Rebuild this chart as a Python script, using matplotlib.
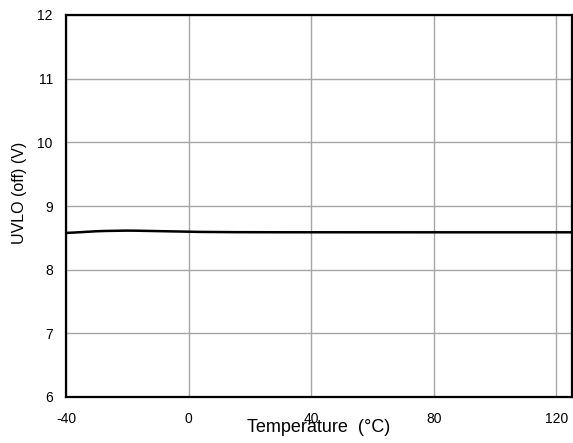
import matplotlib
matplotlib.use("Agg")
import matplotlib.pyplot as plt
import numpy as np

plt.rcParams['font.family'] = ['Liberation Sans', 'DejaVu Sans']
plt.rcParams['axes.unicode_minus'] = False

temperature = [-40, -30, -20, -10, 0, 10, 20, 40, 60, 80, 100, 125]
uvlo_off = [8.575, 8.605, 8.615, 8.605, 8.595, 8.59, 8.588, 8.587, 8.587, 8.587, 8.587, 8.587]

x_ticks = [-40, 0, 40, 80, 120]
y_ticks = [6, 7, 8, 9, 10, 11, 12]

fig = plt.figure(figsize=(5.73, 4.43), dpi=100)
ax = fig.add_axes([66/573, 1-397/443, (571.5-66)/573, (397-15)/443])

xs = np.linspace(-40, 125, 400)
ys = np.interp(xs, temperature, uvlo_off)
k = np.ones(15) / 15
ys_s = np.convolve(np.pad(ys, 7, mode='edge'), k, mode='valid')
ax.plot(xs, ys_s, color='black', lw=1.8, solid_capstyle='butt')

ax.set_xlim(-40, 125)
ax.set_ylim(6, 12)
ax.set_xticks(x_ticks)
ax.set_yticks(y_ticks)
ax.grid(True, color='#a6a6a6', lw=1.0)
ax.set_axisbelow(True)
ax.tick_params(axis='x', length=0, labelsize=10, pad=11)
ax.tick_params(axis='y', length=0, labelsize=10, pad=9.5)
for s in ax.spines.values():
    s.set_linewidth(1.6)
    s.set_color('black')

ax.set_xlabel('Temperature  (°C)', fontsize=13, labelpad=-5)
ax.set_ylabel('UVLO (off) (V)', fontsize=11.5)
ax.yaxis.set_label_coords(-(66 - 27) / 505.5, (397 - 193) / 382)

fig.savefig('out.png', dpi=100)
